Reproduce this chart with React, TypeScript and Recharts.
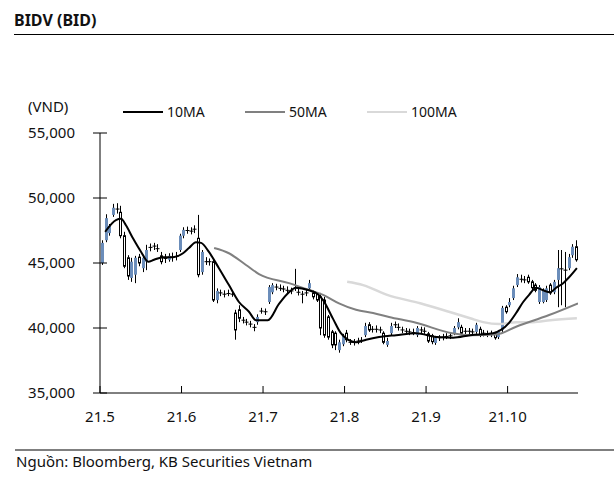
import { Bar, ComposedChart, Line, XAxis, YAxis } from "recharts";

const FONT = '"Noto Sans", "Open Sans", sans-serif';
const BLUE = "#6B8DBA";

const monthTicks = [0, 22, 44, 66, 88, 110];
const monthLabels = ["21.5", "21.6", "21.7", "21.8", "21.9", "21.10"];
const priceTicks = [35000, 40000, 45000, 50000, 55000];

// daily candles, VND
const open = [
  45000, 46750, 47300, 48700, 49100, 48900, 47100, 45400, 43850, 44100,
  45450, 44600, 45100, 46250, 46300, 46200, 45550, 45400, 45250, 45450,
  45550, 46000, 47100, 47550, 47450, 47600, 46900, 44300, 45150, 45050,
  45100, 42150, 42700, 42600, 42700, 42650, 41150, 41400, 40600, 40450,
  40300, 40100, 40450, 41300, 41250, 42000, 42750, 43150, 43100, 43000,
  42950, 42850, 43000, 42750, 42600, 42700, 43050, 42700, 42600, 42400,
  42150, 40850, 39700, 39600, 38300, 38750, 39600, 38950, 38900, 39000,
  39100, 39450, 40250, 39900, 39950, 39850, 39600, 38700, 39600, 40250,
  40100, 39850, 39750, 39700, 39700, 39450, 39850, 39800, 39550, 39400,
  38850, 39250, 39300, 39400, 39400, 39600, 40050, 40050, 39750, 39800,
  39700, 39700, 39900, 39600, 39550, 39550, 39550, 39300, 39850, 41600,
  41750, 42300, 43300, 43800, 43700, 43900, 43550, 43300, 42000, 42000,
  42150, 43300, 42750, 43700, 44550, 44450, 44600, 45600, 46250,
];
const close = [
  46550, 48450, 47850, 49250, 49150, 47100, 44750, 44000, 45100, 45400,
  45000, 45400, 46000, 46200, 46300, 46100, 45100, 45350, 45550, 45450,
  45500, 47100, 47550, 47500, 47450, 47600, 44100, 45850, 45100, 45100,
  42150, 42850, 42700, 42600, 42650, 42600, 39850, 40750, 40600, 40450,
  40300, 40050, 40850, 41300, 41250, 43150, 43300, 43150, 43050, 43000,
  42900, 42850, 43150, 42750, 42600, 42700, 43450, 42400, 42150, 40000,
  39450, 39300, 38700, 38700, 38900, 39400, 39100, 38900, 38900, 39000,
  39050, 40150, 39850, 39900, 39900, 39850, 38900, 39000, 40150, 40250,
  40050, 39850, 39750, 39700, 39650, 40000, 39850, 39750, 39000, 38950,
  39250, 39250, 39300, 39350, 39400, 40000, 40450, 39600, 39750, 39750,
  39700, 40250, 39450, 39600, 39550, 39500, 39250, 39700, 41550, 41250,
  42000, 43050, 43900, 43750, 43700, 43550, 43100, 42900, 43150, 42900,
  43050, 42700, 43550, 44600, 44550, 44450, 45450, 46250, 45250,
];
const high = [
  46750, 48750, 48000, 49550, 49600, 49400, 47400, 45600, 45400, 45550,
  45700, 45600, 46400, 46500, 46550, 46450, 45850, 45700, 45750, 45800,
  45850, 47250, 47750, 47800, 47750, 47900, 48700, 46000, 45450, 45350,
  45250, 43050, 42950, 42900, 42950, 42900, 41400, 41750, 40850, 40700,
  40550, 40300, 41050, 41550, 41500, 43300, 43450, 43400, 43350, 43250,
  43200, 43100, 44550, 43000, 42850, 42950, 43700, 42900, 42750, 42700,
  42400, 41000, 39850, 39750, 39100, 39550, 39850, 39150, 39150, 39250,
  39300, 40400, 40450, 40150, 40200, 40100, 39750, 39250, 40400, 40500,
  40350, 40100, 40000, 39950, 39950, 40150, 40100, 40050, 39700, 39550,
  39400, 39450, 39550, 39600, 39650, 40150, 40750, 40250, 40000, 40000,
  39950, 40400, 40100, 39850, 39800, 39800, 39700, 39850, 41700, 41750,
  42300, 43250, 44150, 44100, 44000, 44100, 43700, 43450, 43300, 43050,
  43250, 43450, 43700, 46000, 46000, 45850, 45700, 46450, 46750,
];
const low = [
  44850, 46600, 47100, 48550, 48800, 46900, 44600, 43700, 43550, 43450,
  44750, 44300, 44450, 45900, 46000, 45850, 44900, 45000, 45100, 45100,
  45200, 45850, 46900, 47250, 47200, 47300, 43900, 44100, 44850, 44800,
  42000, 41900, 42450, 42350, 42450, 42400, 39100, 40450, 40350, 40200,
  40050, 39750, 40250, 41100, 41000, 41850, 42600, 42900, 42850, 42750,
  42700, 42600, 42850, 42500, 41900, 42450, 42900, 42200, 42000, 39450,
  39250, 39100, 38450, 38300, 38100, 38600, 38900, 38700, 38650, 38750,
  38850, 39300, 39700, 39650, 39650, 39600, 38750, 38550, 39450, 40000,
  39800, 39600, 39500, 39450, 39450, 39300, 39600, 39550, 38850, 38750,
  38700, 39000, 39050, 39150, 39150, 39450, 39900, 39450, 39500, 39500,
  39450, 39550, 39300, 39350, 39300, 39300, 39100, 39150, 39700, 41100,
  41600, 42150, 43150, 43500, 43450, 43400, 42900, 42750, 41850, 41900,
  42000, 42550, 42600, 41600, 41750, 41600, 44450, 45400, 45100,
];

// moving averages: position (candle index) and value
const ma10Pos = [
  0.9, 3.8, 5.2, 6.5, 8.4, 10.6, 12.5, 14.1, 16.5, 19.2, 21.9, 23.5, 25.4, 26.8, 28.9,
  31.6, 34.3, 37.0, 39.7, 41.6, 44.8, 47.8, 50.5, 52.4, 55.9, 58.3, 59.7, 62.4, 64.5,
  66.4, 68.6, 71.3, 74.8, 79.4, 84.8, 90.5, 94.8, 99.4, 105.6, 107.7, 109.9, 111.8,
  113.7, 115.3, 117.2, 119.1, 121.0, 122.6, 124.5, 126.1, 128.2,
];
const ma10Val = [
  47400, 48300, 48400, 47900, 46900, 45850, 45100, 45250, 45450, 45450, 45750, 46150, 46600, 46550, 45850,
  44600, 43300, 42000, 41250, 40600, 40600, 41850, 42750, 43100, 42900, 42600, 42150, 40700, 39600,
  39100, 38900, 39100, 39300, 39450, 39600, 39300, 39250, 39450, 39600, 39850, 40400, 41150,
  42000, 42550, 43100, 42900, 42750, 43100, 43450, 43900, 44600,
];
const ma50Pos = [30.3, 34.3, 38.9, 42.4, 50.5, 56.2, 59.7, 64.0, 68.6, 73.2, 77.5, 84.8, 94.5, 99.4, 106.4, 111.8, 120.7, 128.5];
const ma50Val = [46150, 45750, 44850, 44150, 43450, 42900, 42550, 41900, 41400, 41150, 40850, 40400, 39600, 39450, 39500, 40100, 41000, 41900];
const ma100Pos = [66.2, 70.5, 77.0, 85.9, 94.8, 99.4, 102.9, 107.2, 111.8, 116.4, 121.0, 128.2];
const ma100Val = [43550, 43300, 42550, 41900, 41150, 40750, 40450, 40300, 40450, 40450, 40600, 40750];

const candles = open.map((o, i) => ({
  x: i + 0.5,
  range: [low[i], high[i]],
  open: o,
  close: close[i],
  high: high[i],
  low: low[i],
}));
const line = (pos: number[], val: number[]) => pos.map((p, i) => ({ x: p + 0.5, v: val[i] }));
const ma10 = line(ma10Pos, ma10Val);
const ma50 = line(ma50Pos, ma50Val);
const ma100 = line(ma100Pos, ma100Val);

function Candle(props: any) {
  const { x, y, width, height, payload } = props;
  if (x == null || y == null || !payload) return null;
  const top = Math.min(y, y + height);
  const h = Math.abs(height);
  const span = payload.high - payload.low || 1;
  const py = (v: number) => top + ((payload.high - v) / span) * h;
  const c = Math.round(x + width / 2);
  const yo = py(payload.open);
  const yc = py(payload.close);
  const bTop = Math.min(yo, yc);
  const bH = Math.abs(yo - yc);
  const up = payload.close > payload.open;
  return (
    <g>
      <line x1={c + 0.5} x2={c + 0.5} y1={top} y2={top + h} stroke="#000" strokeWidth={1} />
      {bH < 1.5 ? (
        <line x1={c - 1.5} x2={c + 2.5} y1={yc} y2={yc} stroke="#000" strokeWidth={1} />
      ) : up ? (
        <rect x={c - 1} y={bTop} width={3} height={bH} fill={BLUE} />
      ) : (
        <rect x={c - 0.5} y={bTop} width={2} height={bH} fill="#fff" stroke="#000" strokeWidth={1} />
      )}
    </g>
  );
}

function PriceTick(props: any) {
  const { x, y, payload } = props;
  return (
    <g>
      <line x1={x - 7} x2={x + 7} y1={y} y2={y} stroke="#000" />
      <text x={x - 25} y={y + 5} textAnchor="end" fontSize={15} fontFamily={FONT} fill="#111">
        {Number(payload.value).toLocaleString("en-US")}
      </text>
    </g>
  );
}

function MonthTick(props: any) {
  const { x, y, payload } = props;
  const label = monthLabels[monthTicks.indexOf(payload.value)];
  return (
    <g>
      <line x1={x} x2={x} y1={y - 7} y2={y} stroke="#000" />
      <text x={x} y={y + 29} textAnchor="middle" fontSize={15} fontFamily={FONT} fill="#111">
        {label}
      </text>
    </g>
  );
}

const legendItems = [
  { name: "10MA", color: "#000000", x: 123 },
  { name: "50MA", color: "#808080", x: 245 },
  { name: "100MA", color: "#D9D9D9", x: 367 },
];

export default function App() {
  return (
    <div style={{ position: "absolute", left: 0, top: 0, width: 614, height: 481, background: "#fff", fontFamily: FONT }}>
      <svg width={614} height={481} style={{ position: "absolute", left: 0, top: 0 }}>
        <text x={14} y={26} fontSize={16} fontWeight={700} fontFamily={FONT} fill="#111">
          BIDV (BID)
        </text>
        <line x1={14} x2={614} y1={34.5} y2={34.5} stroke="#000" strokeWidth={1.2} />
        <text x={28} y={112} fontSize={15} fontFamily={FONT} fill="#111">
          (VND)
        </text>
        {legendItems.map((it) => (
          <g key={it.name}>
            <line x1={it.x} x2={it.x + 40} y1={112} y2={112} stroke={it.color} strokeWidth={2.2} />
            <text x={it.x + 44} y={117} fontSize={14} fontFamily={FONT} fill="#111">
              {it.name}
            </text>
          </g>
        ))}
        <line x1={15} x2={614} y1={450} y2={450} stroke="#000" strokeWidth={1.2} />
        <text x={16} y={467} fontSize={15} fontFamily={FONT} fill="#111">
          Nguồn: Bloomberg, KB Securities Vietnam
        </text>
      </svg>
      <div style={{ position: "absolute", left: 0, top: 0 }}>
        <ComposedChart width={614} height={481} data={candles} margin={{ top: 133, right: 36, bottom: 58, left: 40 }}>
          <XAxis
            type="number"
            dataKey="x"
            domain={[0, 129]}
            ticks={monthTicks}
            interval={0}
            allowDataOverflow
            height={30}
            tickSize={0}
            tickMargin={0}
            tickLine={false}
            axisLine={{ stroke: "#000" }}
            tick={<MonthTick />}
          />
          <YAxis
            type="number"
            domain={[35000, 55000]}
            ticks={priceTicks}
            interval={0}
            allowDataOverflow
            width={60}
            tickSize={0}
            tickMargin={0}
            tickLine={false}
            axisLine={{ stroke: "#000" }}
            tick={<PriceTick />}
          />
          <Bar dataKey="range" barSize={3} shape={<Candle />} isAnimationActive={false} />
          <Line data={ma100} dataKey="v" type="monotone" stroke="#D9D9D9" strokeWidth={2.5} dot={false} activeDot={false} isAnimationActive={false} />
          <Line data={ma50} dataKey="v" type="monotone" stroke="#808080" strokeWidth={2} dot={false} activeDot={false} isAnimationActive={false} />
          <Line data={ma10} dataKey="v" type="monotone" stroke="#000000" strokeWidth={2} dot={false} activeDot={false} isAnimationActive={false} />
        </ComposedChart>
      </div>
    </div>
  );
}
